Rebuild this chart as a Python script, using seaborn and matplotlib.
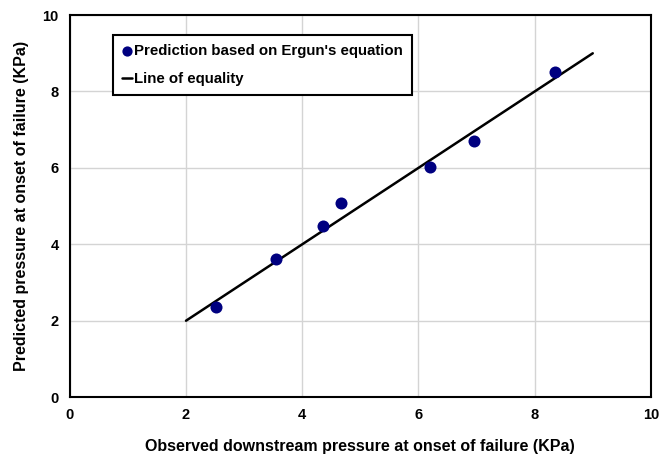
import matplotlib
matplotlib.use("Agg")
import matplotlib.pyplot as plt
import seaborn as sns
import pandas as pd

observed = [2.51, 3.55, 4.35, 4.66, 6.20, 6.95, 8.35]
predicted = [2.36, 3.61, 4.48, 5.08, 6.02, 6.70, 8.51]
equality_x = [2, 9]
equality_y = [2, 9]
ticks = [0, 2, 4, 6, 8, 10]

sns.set_theme(style="whitegrid")
plt.rcParams['font.family'] = ['Liberation Sans', 'DejaVu Sans']
plt.rcParams['font.weight'] = 'bold'
plt.rcParams['text.color'] = 'black'
plt.rcParams['axes.labelcolor'] = 'black'
plt.rcParams['xtick.color'] = 'black'
plt.rcParams['ytick.color'] = 'black'

fig = plt.figure(figsize=(6.71, 4.57), dpi=100)
ax = fig.add_axes([0.104, 0.131, 0.866, 0.836])

df = pd.DataFrame({"obs": observed, "pred": predicted})
sns.lineplot(x=equality_x, y=equality_y, ax=ax, color="black", linewidth=1.8,
             label="Line of equality")
sns.scatterplot(data=df, x="obs", y="pred", ax=ax, color="#000080", s=75,
                edgecolor="#000080", linewidth=0, label="Prediction based on Ergun's equation", zorder=3)

ax.set_xlim(0, 10)
ax.set_ylim(0, 10)
ax.set_xticks(ticks)
ax.set_yticks(ticks)
ax.tick_params(axis='both', labelsize=10.5, length=4, width=1, color='black', pad=4, direction='out')
for lab in ax.get_xticklabels() + ax.get_yticklabels():
    lab.set_fontweight('bold')
ax.grid(True, color="#d4d4d4", linewidth=1)
for s in ax.spines.values():
    s.set_color("black")
    s.set_linewidth(1.5)

ax.set_xlabel("Observed downstream pressure at onset of failure (KPa)", fontsize=11.5,
              fontweight='bold', labelpad=12)
ax.set_ylabel("Predicted pressure at onset of failure (KPa)", fontsize=11.5,
              fontweight='bold', labelpad=10)

handles, labels = ax.get_legend_handles_labels()
order = [1, 0]
leg = ax.legend([handles[i] for i in order], [labels[i] for i in order],
                loc='upper left', bbox_to_anchor=(0.074, 0.947), frameon=True,
                fancybox=False, edgecolor='black', framealpha=1,
                prop={'weight': 'bold', 'size': 10.8}, handlelength=0.7,
                handletextpad=0.1, borderpad=0.6, labelspacing=0.9,
                borderaxespad=0, markerscale=0.85)
leg.get_frame().set_linewidth(1.5)

fig.savefig("out.png", dpi=100)
